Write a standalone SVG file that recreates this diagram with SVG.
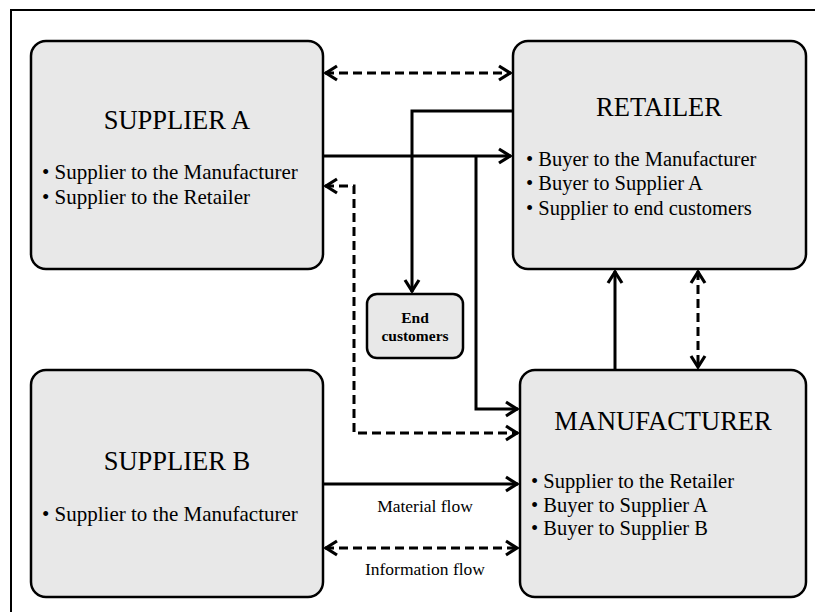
<svg xmlns="http://www.w3.org/2000/svg" width="815" height="612" viewBox="0 0 815 612">
<style>
.box{fill:#e8e8e8;stroke:#000;stroke-width:2.5}
.title{font-family:"Liberation Serif","Times New Roman",serif;font-size:26.5px;fill:#000;text-anchor:middle}
.item{font-family:"Liberation Serif","Times New Roman",serif;font-size:20.5px;fill:#000}
.itemS{font-family:"Liberation Serif","Times New Roman",serif;font-size:21px;fill:#000}
.small{font-family:"Liberation Serif","Times New Roman",serif;font-size:15.5px;font-weight:bold;fill:#000;text-anchor:middle}
.lbl{font-family:"Liberation Serif","Times New Roman",serif;font-size:17.5px;fill:#000;text-anchor:middle}
.solid{fill:none;stroke:#000;stroke-width:3}
.dash{fill:none;stroke:#000;stroke-width:3;stroke-dasharray:9 5}
</style>
<defs>
<marker id="arr" markerUnits="userSpaceOnUse" viewBox="-14 -9 16 18" refX="0" refY="0" markerWidth="16" markerHeight="18" orient="auto-start-reverse" overflow="visible">
<path d="M-12,-7 L-1,0 L-12,7" fill="none" stroke="#000" stroke-width="3.2" stroke-dasharray="none" stroke-linejoin="miter"/>
</marker>
</defs>
<rect width="815" height="612" fill="#fff"/>
<rect x="11" y="10" width="830" height="640" fill="none" stroke="#000" stroke-width="2"/>
<g id="connectors">
<path class="dash" d="M325,73 H511" marker-start="url(#arr)" marker-end="url(#arr)"/>
<path class="solid" d="M513,111 H412 V292" marker-end="url(#arr)"/>
<path class="solid" d="M323,156 H511" stroke-width="2.5" marker-end="url(#arr)"/>
<path class="solid" d="M476,156 V409 H518" marker-end="url(#arr)"/>
<path class="dash" d="M325,186 H354 V433 H518" marker-start="url(#arr)" marker-end="url(#arr)"/>
<path class="solid" d="M615,370 V271" marker-end="url(#arr)"/>
<path class="dash" d="M698,271 V368" marker-start="url(#arr)" marker-end="url(#arr)"/>
<path class="solid" d="M323,484 H518" marker-end="url(#arr)"/>
<path class="dash" d="M325,548 H518" marker-start="url(#arr)" marker-end="url(#arr)"/>
</g>
<g id="supplierA">
<rect class="box" x="31" y="41" width="292" height="228" rx="15"/>
<text class="title" x="177" y="129">SUPPLIER A</text>
<text class="itemS" x="42" y="179">• Supplier to the Manufacturer</text>
<text class="itemS" x="42" y="203.5">• Supplier to the Retailer</text>
</g>
<g id="retailer">
<rect class="box" x="513" y="41" width="293" height="228" rx="15"/>
<text class="title" x="659" y="116">RETAILER</text>
<text class="item" x="526" y="166">• Buyer to the Manufacturer</text>
<text class="item" x="526" y="190">• Buyer to Supplier A</text>
<text class="item" x="526" y="215">• Supplier to end customers</text>
</g>
<g id="endCustomers">
<rect class="box" x="367" y="294" width="96" height="64" rx="10"/>
<text class="small" x="415" y="323">End</text>
<text class="small" x="415" y="341">customers</text>
</g>
<g id="supplierB">
<rect class="box" x="31" y="370" width="292" height="227" rx="15"/>
<text class="title" x="177" y="470">SUPPLIER B</text>
<text class="itemS" x="42" y="521">• Supplier to the Manufacturer</text>
</g>
<g id="manufacturer">
<rect class="box" x="520" y="370" width="286" height="227" rx="15"/>
<text class="title" x="663" y="430">MANUFACTURER</text>
<text class="item" x="531" y="488">• Supplier to the Retailer</text>
<text class="item" x="531" y="512">• Buyer to Supplier A</text>
<text class="item" x="531" y="535">• Buyer to Supplier B</text>
</g>
<g id="legend">
<text class="lbl" x="425" y="512">Material flow</text>
<text class="lbl" x="425" y="575">Information flow</text>
</g>
</svg>
